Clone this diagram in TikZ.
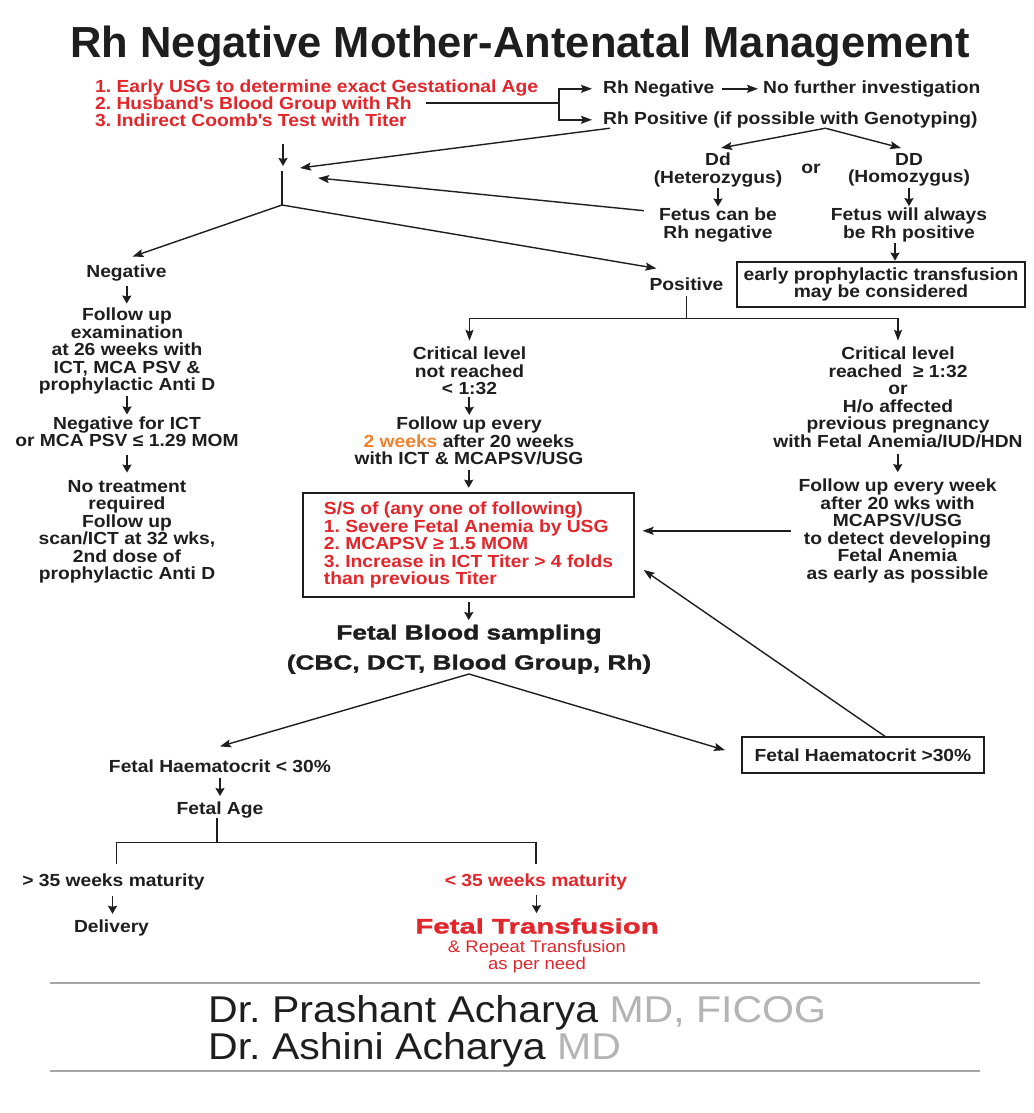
\documentclass[tikz,border=0pt]{standalone}
\usepackage{fontspec}
\setmainfont{Liberation Sans}[FakeStretch=1.1]
\newfontfamily\titlefam{Liberation Sans}
\newfontfamily\widefam{Liberation Sans}[UprightFont=* Bold, FakeStretch=1.28, FakeBold=1.5]
\newfontfamily\widerfam{Liberation Sans}[UprightFont=* Bold, FakeStretch=1.4, FakeBold=1.5]
\usetikzlibrary{arrows.meta,calc}
\definecolor{ink}{HTML}{1E1E1E}
\definecolor{redc}{HTML}{E3262B}
\definecolor{orangec}{HTML}{F0822E}
\definecolor{grayt}{HTML}{B4B4B4}
\definecolor{grayl}{HTML}{A6A6A6}
\newcommand\bodysize{\fontsize{17.5}{17.5}\selectfont\bfseries}
\frenchspacing
\tikzset{
  txt/.style={font=\bodysize, text=ink, inner sep=0pt, align=center},
  lft/.style={txt, align=left},
  conn/.style={draw=ink, line width=1.4pt},
  arr/.style={conn, -{Stealth[length=11pt,width=8pt,inset=2pt]}},
  sarr/.style={conn, line width=1.6pt, -{Stealth[length=8pt,width=9pt,inset=1pt]}},
  tbox/.style={draw=ink, line width=1.3pt, inner sep=0pt},
}
\newcommand\downarr[2]{\draw[sarr] ($(#1.south)!0.5!(#2.north)+(0,-9)$) -- ($(#1.south)!0.5!(#2.north)+(0,9)$);}
\begin{document}
\begin{tikzpicture}[x=1pt,y=-1pt]
\fill[white] (0,0) rectangle (1033,1113);
\useasboundingbox (0,0) rectangle (1033,1113);

% title
\node[txt, font=\titlefam\fontsize{43.5}{43.5}\selectfont\bfseries, anchor=base] (title) at (520,57.5) {Rh Negative Mother-Antenatal Management};

% investigations
\node[lft, text=redc, anchor=base west] (l1) at (95,92.3) {1. Early USG to determine exact Gestational Age};
\node[lft, text=redc, anchor=base west] (l2) at (95,109.3) {2. Husband\textquotesingle s Blood Group with Rh};
\node[lft, text=redc, anchor=base west] (l3) at (95,126.3) {3. Indirect Coomb\textquotesingle s Test with Titer};

\node[txt, anchor=base west] (rhneg) at (603,93.3) {Rh Negative};
\node[txt, anchor=base west] (nfi) at (763,93.3) {No further investigation};
\node[txt, anchor=base west] (rhpos) at (603,124.3) {Rh Positive (if possible with Genotyping)};

\coordinate (split) at (559,103);
\draw[conn] (l2.east |- split) ++(14,0) -- (split);
\draw[arr, shorten >=11pt] (split) |- (rhneg.west);
\draw[arr, shorten >=11pt] (split) |- (rhpos.west);
\draw[arr, shorten <=7pt, shorten >=5pt] (rhneg.east) -- (nfi.west);

% genotype
\node[txt, anchor=north] (dd1) at (718,153) {Dd\\(Heterozygus)};
\node[txt, anchor=base] (ornode) at (811,173) {or};
\node[txt, anchor=north] (dd2) at (909,153) {DD\\(Homozygus)};
\draw[arr] ([xshift=35pt]rhpos.south) -- ($(dd1.north)+(3,-5)$);
\draw[arr] ([xshift=35pt]rhpos.south) -- ($(dd2.north)+(-8,-5)$);
\node[txt, anchor=north] (fcb) at (718,207.7) {Fetus can be\\Rh negative};
\node[txt, anchor=north] (fwa) at (909,207.7) {Fetus will always\\be Rh positive};
\downarr{dd1}{fcb}
\downarr{dd2}{fwa}
\node[tbox, txt, minimum width=288pt, minimum height=45pt] (epb) at (881,284.5) {early prophylactic transfusion\\may be considered};
\downarr{fwa}{epb}

% junction
\coordinate (jtop) at (282,171);
\coordinate (jbot) at (282,205);
\coordinate (pA) at (300,168);
\coordinate (pB) at (318,178);
\draw[sarr] ($(l3.south -| jtop)+(1,17)$) -- ($(jtop)+(1,-5)$);
\draw[conn] (jtop) -- (jbot);
\draw[arr] ([xshift=7pt]rhpos.south west) -- (pA);
\draw[arr] ($(fcb.north west)+(-15,3)$) -- (pB);

% negative branch
\node[txt, anchor=base] (neg) at (126.5,277.5) {Negative};
\node[txt, anchor=north] (fu1) at (127,307.7) {Follow up\\examination\\at 26 weeks with\\ICT, MCA PSV \&\\prophylactic Anti D};
\node[txt, anchor=north] (neg2) at (127,416.5) {Negative for ICT\\or MCA PSV ≤ 1.29 MOM};
\node[txt, anchor=north] (nt) at (127,479.9) {No treatment\\required\\Follow up\\scan/ICT at 32 wks,\\2nd dose of\\prophylactic Anti D};
\draw[arr] (jbot) -- ($(neg.north)+(6,-8)$);
\downarr{neg}{fu1}
\downarr{fu1}{neg2}
\downarr{neg2}{nt}

% positive branch
\node[txt, anchor=base] (posn) at (686.5,290.3) {Positive};
\draw[arr] (jbot) -- ($(posn.north west)+(7,-9)$);
\path (posn.south) ++(0,28) coordinate (pb);
\draw[conn, shorten <=5pt] (posn.south) -- (pb);
\node[txt, anchor=north] (crit1) at (469.5,346.7) {Critical level\\not reached\\< 1:32};
\node[txt, anchor=north] (crit2) at (898,346.7) {Critical level\\reached~ ≥ 1:32\\or\\H/o affected\\previous pregnancy\\with Fetal Anemia/IUD/HDN};
\draw[arr, shorten >=6pt] (pb) -| (crit1.north);
\draw[arr, shorten >=6pt] (pb) -| (crit2.north);

\node[txt, anchor=north] (fu2) at (469,416.7) {Follow up every\\\textcolor{orangec}{2 weeks} after 20 weeks\\with ICT \& MCAPSV/USG};
\downarr{crit1}{fu2}
\node[tbox, lft, text=redc, minimum width=331pt, minimum height=104pt] (ss) at (468.5,545) {S/S of (any one of following)\\1. Severe Fetal Anemia by USG\\2. MCAPSV ≥ 1.5 MOM\\3. Increase in ICT Titer > 4 folds\\than previous Titer};
\downarr{fu2}{ss}

\node[txt, anchor=north] (fwe) at (897.5,478.7) {Follow up every week\\after 20 wks with\\MCAPSV/USG\\to detect developing\\Fetal Anemia\\as early as possible};
\downarr{crit2}{fwe}
\draw[arr, shorten <=7pt, shorten >=8pt] (fwe.west) -- (fwe.west -| ss.east);

% fetal blood sampling
\node[txt, font=\widefam\fontsize{20.5}{30}\selectfont, anchor=north] (fbs) at (469,624.5) {Fetal Blood sampling\\(CBC, DCT, Blood Group, Rh)};
\downarr{ss}{fbs}
\node[txt, anchor=base] (fh1) at (220,772.3) {Fetal Haematocrit < 30\%};
\node[tbox, txt, minimum width=242pt, minimum height=36pt] (fh2) at (863,755) {Fetal Haematocrit >30\%};
\draw[arr] (fbs.south) -- ($(fh1.north)+(0,-13)$);
\draw[arr, shorten >=17pt] (fbs.south) -- (fh2.west);
\draw[arr] ([xshift=22pt]fh2.north) -- ($(ss.east)+(9,25)$);

% fetal age
\node[txt, anchor=base] (fage) at (220,814.3) {Fetal Age};
\downarr{fh1}{fage}
\path (fage.south) ++(-3,24) coordinate (fab);
\draw[conn] (fage.south -| fab) -- (fab);
\node[txt, anchor=base] (gt35) at (113.5,886.3) {> 35 weeks maturity};
\node[txt, text=redc, anchor=base] (lt35) at (536,886.3) {< 35 weeks maturity};
\draw[conn, shorten >=9pt] (fab) -| ([xshift=3pt]gt35.north);
\draw[conn, shorten >=9pt] (fab) -| (lt35.north);
\node[txt, anchor=base] (deliv) at (111.5,932.3) {Delivery};
\downarr{gt35}{deliv}
\node[txt, font=\widerfam\fontsize{21}{21}\selectfont, text=redc, anchor=base] (ft) at (537,933.5) {Fetal Transfusion};
\node[txt, font=\fontsize{16.8}{17}\selectfont, text=redc, anchor=north] (rep) at (537,940) {\& Repeat Transfusion\\as per need};
\downarr{lt35}{ft}

% footer
\coordinate (fl1) at (50,983);
\coordinate (fr1) at (980,983);
\coordinate (fl2) at (50,1071);
\coordinate (fr2) at (980,1071);
\draw[grayl, line width=2pt] (fl1) -- (fr1);
\draw[grayl, line width=2pt] (fl2) -- (fr2);
\node[anchor=base west, inner sep=0pt, font=\fontsize{37.3}{37.3}\selectfont, text=ink] (dr1) at (208,1022) {Dr. Prashant Acharya \textcolor{grayt}{MD, FICOG}};
\node[anchor=base west, inner sep=0pt, font=\fontsize{37.3}{37.3}\selectfont, text=ink] (dr2) at (208,1059) {Dr. Ashini Acharya \textcolor{grayt}{MD}};
\end{tikzpicture}
\end{document}
